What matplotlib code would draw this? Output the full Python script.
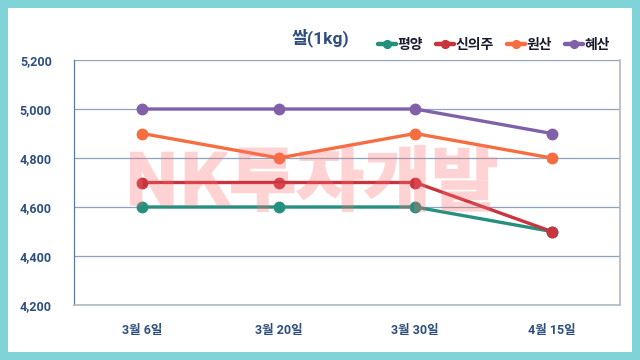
import matplotlib
matplotlib.use("Agg")
import matplotlib.pyplot as plt
from matplotlib.patches import Rectangle, PathPatch
from matplotlib.textpath import TextPath
from matplotlib.font_manager import FontProperties
from matplotlib.transforms import Affine2D, IdentityTransform
from matplotlib.ticker import FuncFormatter

categories = ["3월 6일", "3월 20일", "3월 30일", "4월 15일"]
series_names = ["평양", "신의주", "원산", "혜산"]
pyongyang = [4600, 4600, 4600, 4500]
sinuiju = [4700, 4700, 4700, 4500]
wonsan = [4900, 4800, 4900, 4800]
hyesan = [5000, 5000, 5000, 4900]
yticks = [4200, 4400, 4600, 4800, 5000, 5200]
colors = ["#26907F", "#C8353F", "#F76D40", "#8060A8"]
watermark = "NK투자개발"

FONT = ["Roboto", "Noto Sans CJK KR", "DejaVu Sans"]
plt.rcParams["font.family"] = FONT

W, H = 640, 360
fig = plt.figure(figsize=(6.4, 3.6), dpi=100)
fig.patch.set_facecolor("#80D4D8")
fig.patches.append(Rectangle((8 / W, 8 / H), (W - 16) / W, (H - 16) / H,
                             transform=fig.transFigure, facecolor="white",
                             edgecolor="none", zorder=-5))

left, right, top, bottom = 74, 620, 60, 305
ax = fig.add_axes([left / W, 1 - bottom / H, (right - left) / W, (bottom - top) / H])
ax.set_facecolor("none")
ax.set_zorder(2)

x = list(range(len(categories)))
for vals, c, name in zip([pyongyang, sinuiju, wonsan, hyesan], colors, series_names):
    ax.plot(x, vals, color=c, lw=2.4, marker="o", markersize=7.5, label=name,
            solid_capstyle="round", zorder=3)

ax.set_xlim(-0.5, 3.5)
ax.set_ylim(4200, 5200)
ax.set_yticks(yticks)
ax.yaxis.set_major_formatter(FuncFormatter(lambda v, p: f"{int(v):,}"))
ax.set_xticks(x)
ax.set_xticklabels(categories)
ax.grid(axis="y", color="#8FA3BF", lw=0.9, zorder=1)
ax.tick_params(axis="both", length=0, labelsize=9, labelcolor="#2E4E7E")
ax.tick_params(axis="y", pad=16)
ax.tick_params(axis="x", pad=14)
for lab in ax.get_xticklabels() + ax.get_yticklabels():
    lab.set_fontweight("bold")
ax.spines["top"].set_visible(False)
ax.spines["left"].set_color("#5B7BA0")
ax.spines["left"].set_linewidth(0.9)
for s in ["right", "bottom"]:
    ax.spines[s].set_color("#B0B8C8")
    ax.spines[s].set_linewidth(1.2)

fig.text(320 / W, 1 - 38 / H, "쌀(1kg)", ha="center", va="center", fontsize=12.5,
         fontweight="bold", color="#2E4E7E", family=FONT)

leg = fig.legend(loc="center", bbox_to_anchor=(494 / W, 1 - 45 / H), ncol=4,
                 frameon=False, fontsize=10, handlelength=1.3, handletextpad=0.15,
                 columnspacing=0.9, borderaxespad=0, markerscale=0.75)
for t in leg.get_texts():
    t.set_color("#1A1A2E")
    t.set_fontweight("bold")
for h in leg.legend_handles:
    h.set_linewidth(3.2)

# watermark: text path scaled into its box (pixel coords, origin bottom-left)
tp = TextPath((0, 0), watermark, size=50,
              prop=FontProperties(family="Noto Sans CJK KR", weight="black"))
ext = tp.get_extents()
x0, x1, ytop, ybot = 131, 496, 146, 211
sx = (x1 - x0) / ext.width
sy = (ybot - ytop) / ext.height
tr = (Affine2D().translate(-ext.x0, -ext.y0).scale(sx, sy)
      .translate(x0, H - ybot) + IdentityTransform())


def fade(img, dpi):
    out = img.copy()
    out[..., 3] *= 0.30
    return out, 0, 0


wm = PathPatch(tp, transform=tr, facecolor="#FF6E6E", edgecolor="#FF6E6E",
               linewidth=1.6, joinstyle="miter", zorder=20)
wm.set_agg_filter(fade)
ax.add_artist(wm)
wm.set_clip_on(False)

fig.savefig("out.png", dpi=100, facecolor=fig.get_facecolor())
